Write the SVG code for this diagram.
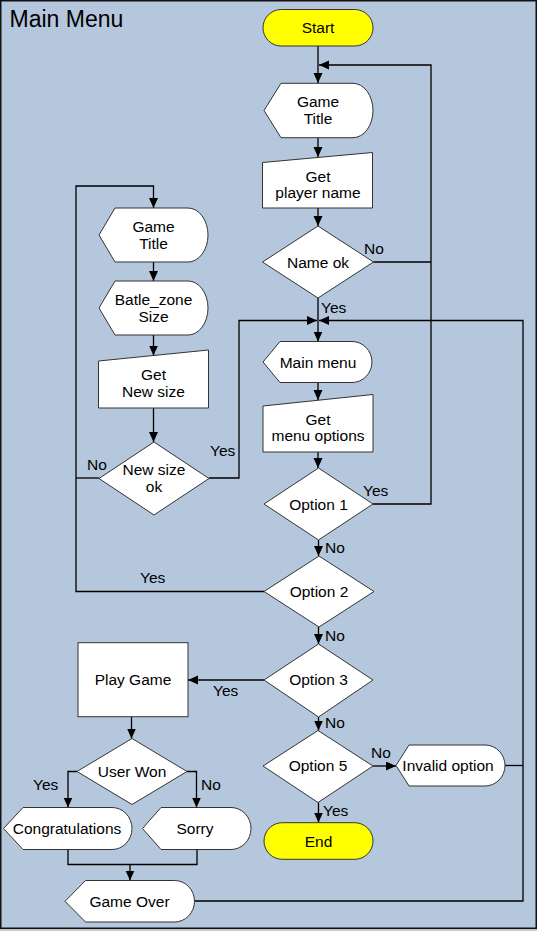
<svg xmlns="http://www.w3.org/2000/svg" width="537" height="931" viewBox="0 0 537 931">
<defs>
<marker id="ah" markerUnits="userSpaceOnUse" markerWidth="10" markerHeight="10" refX="10" refY="4.5" orient="auto">
<path d="M0,0 L10,4.5 L0,9 z" fill="#000"/>
</marker>
<style>
.n{fill:#fff;stroke:#333;stroke-width:1}
.y{fill:#ffff00;stroke:#333;stroke-width:1}
.c{fill:none;stroke:#000;stroke-width:1.3}
.a{marker-end:url(#ah)}
text{font-family:"Liberation Sans",Arial,sans-serif;font-size:15.5px;fill:#000}
.m{text-anchor:middle}
</style>
</defs>
<rect x="0" y="0" width="537" height="931" fill="#c8c8c8"/>
<rect x="0.75" y="0.75" width="535.5" height="927.5" fill="#b4c7dc" stroke="#111" stroke-width="1.5"/>
<text x="9.5" y="26.5" style="font-size:23px">Main Menu</text>

<g id="connectors">
<path class="c a" d="M318,46 V83"/>
<path class="c" d="M373.5,262 H431"/>
<path class="c a" d="M373,504 H431 V65 H319"/>
<path class="c a" d="M318,138 V157"/>
<path class="c a" d="M318,208 V226"/>
<path class="c a" d="M318,298 V341.5"/>
<path class="c a" d="M209,478 H239 V320.5 H317"/>
<path class="c" d="M505,765.5 H523"/>
<path class="c a" d="M194.5,901 H523 V320.5 H319"/>
<path class="c a" d="M318,382.5 V400"/>
<path class="c a" d="M318,452 V468"/>
<path class="c a" d="M318.5,540 V556"/>
<path class="c" d="M99,478 H76"/>
<path class="c a" d="M264,591.5 H76 V186 H153.5 V208"/>
<path class="c a" d="M153.5,262 V281"/>
<path class="c a" d="M153.5,335 V355.5"/>
<path class="c a" d="M153.5,408 V442"/>
<path class="c a" d="M318.5,627 V644"/>
<path class="c a" d="M264,680 H188"/>
<path class="c a" d="M318.5,717 V730.5"/>
<path class="c a" d="M373,766 H396"/>
<path class="c a" d="M318.5,802.5 V822.5"/>
<path class="c a" d="M131.5,717 V738.5"/>
<path class="c a" d="M77,771.5 H68 V807.5"/>
<path class="c a" d="M187,771.5 H196.5 V807.5"/>
<path class="c" d="M68,849.5 V864.5 H197 V849.5"/>
<path class="c a" d="M130,864.5 V880.5"/>
</g>

<g id="start"><rect class="y" x="263" y="9.5" width="110" height="36.5" rx="18.25"/><text class="m" x="318" y="33.3">Start</text></g>
<g id="game-title"><path class="n" d="M264,110.5 L281,83.3 H353 A20,27.2 0 0 1 353,137.7 H281 Z"/><text class="m" x="318" y="106.7">Game</text><text class="m" x="318" y="123.5">Title</text></g>
<g id="get-player-name"><path class="n" d="M262.5,162.5 L372.5,152.5 V208 H262.5 Z"/><text class="m" x="318" y="181.5">Get</text><text class="m" x="318" y="197.5">player name</text></g>
<g id="name-ok"><path class="n" d="M318,226 L373.5,262 L318,298 L262.5,262 Z"/><text class="m" x="318" y="267.5">Name ok</text></g>
<g id="main-menu"><path class="n" d="M263,362 L280,341.5 H352 A20,20.5 0 0 1 352,382.5 H280 Z"/><text class="m" x="318" y="367.5">Main menu</text></g>
<g id="get-menu-options"><path class="n" d="M263,406 L373,394.5 V452 H263 Z"/><text class="m" x="318" y="424.5">Get</text><text class="m" x="318" y="441">menu options</text></g>
<g id="option-1"><path class="n" d="M318.5,468 L373,504 L318.5,540 L264,504 Z"/><text class="m" x="318.5" y="509.5">Option 1</text></g>
<g id="option-2"><path class="n" d="M319,556 L374,591.5 L319,627 L264,591.5 Z"/><text class="m" x="319" y="597">Option 2</text></g>
<g id="option-3"><path class="n" d="M318.5,644 L373,680 L318.5,717 L264,680 Z"/><text class="m" x="318.5" y="685">Option 3</text></g>
<g id="option-5"><path class="n" d="M318,730.5 L373,766 L318,802.5 L263,766 Z"/><text class="m" x="318" y="771">Option 5</text></g>
<g id="invalid-option"><path class="n" d="M396,765.5 L409,745 H485 A20,20.5 0 0 1 485,786 H409 Z"/><text class="m" x="448" y="771">Invalid option</text></g>
<g id="end"><rect class="y" x="264" y="822.7" width="109" height="36.6" rx="18.3"/><text class="m" x="318.5" y="846.5">End</text></g>

<g id="game-title-2"><path class="n" d="M99,235 L115,208 H188 A20,27 0 0 1 188,262 H115 Z"/><text class="m" x="153.5" y="231.5">Game</text><text class="m" x="153.5" y="248.5">Title</text></g>
<g id="batle-zone-size"><path class="n" d="M99,308 L115,281 H188 A20,27 0 0 1 188,335 H115 Z"/><text class="m" x="153.5" y="304.5">Batle_zone</text><text class="m" x="153.5" y="321.5">Size</text></g>
<g id="get-new-size"><path class="n" d="M98.5,361 L208.5,350 V408 H98.5 Z"/><text class="m" x="153.5" y="380">Get</text><text class="m" x="153.5" y="396.5">New size</text></g>
<g id="new-size-ok"><path class="n" d="M154,442 L209,478.5 L154,515 L99,478.5 Z"/><text class="m" x="154" y="475">New size</text><text class="m" x="154" y="492">ok</text></g>

<g id="play-game"><rect class="n" x="78" y="642.7" width="110" height="74"/><text class="m" x="133" y="684.5">Play Game</text></g>
<g id="user-won"><path class="n" d="M132,738.5 L187,771.5 L132,804.5 L77,771.5 Z"/><text class="m" x="132" y="777">User Won</text></g>
<g id="congratulations"><path class="n" d="M3.5,828.5 L23,807.5 H112 A20,21 0 0 1 112,849.5 H23 Z"/><text class="m" x="67" y="833.5">Congratulations</text></g>
<g id="sorry"><path class="n" d="M142.5,828.5 L161,807.5 H231 A20,21 0 0 1 231,849.5 H161 Z"/><text class="m" x="195" y="833.5">Sorry</text></g>
<g id="game-over"><path class="n" d="M65,901.3 L85.5,880.5 H174.5 A20,20.75 0 0 1 174.5,922 H85.5 Z"/><text class="m" x="129.5" y="906.7">Game Over</text></g>

<g id="labels">
<text x="364" y="254">No</text>
<text x="321" y="313">Yes</text>
<text x="210" y="456">Yes</text>
<text x="87" y="470">No</text>
<text x="363" y="496">Yes</text>
<text x="325" y="553">No</text>
<text x="140" y="583">Yes</text>
<text x="325" y="640.5">No</text>
<text x="213" y="696">Yes</text>
<text x="325" y="727.5">No</text>
<text x="371" y="757.5">No</text>
<text x="323" y="815.5">Yes</text>
<text x="33" y="789.5">Yes</text>
<text x="201" y="789.5">No</text>
</g>
</svg>
